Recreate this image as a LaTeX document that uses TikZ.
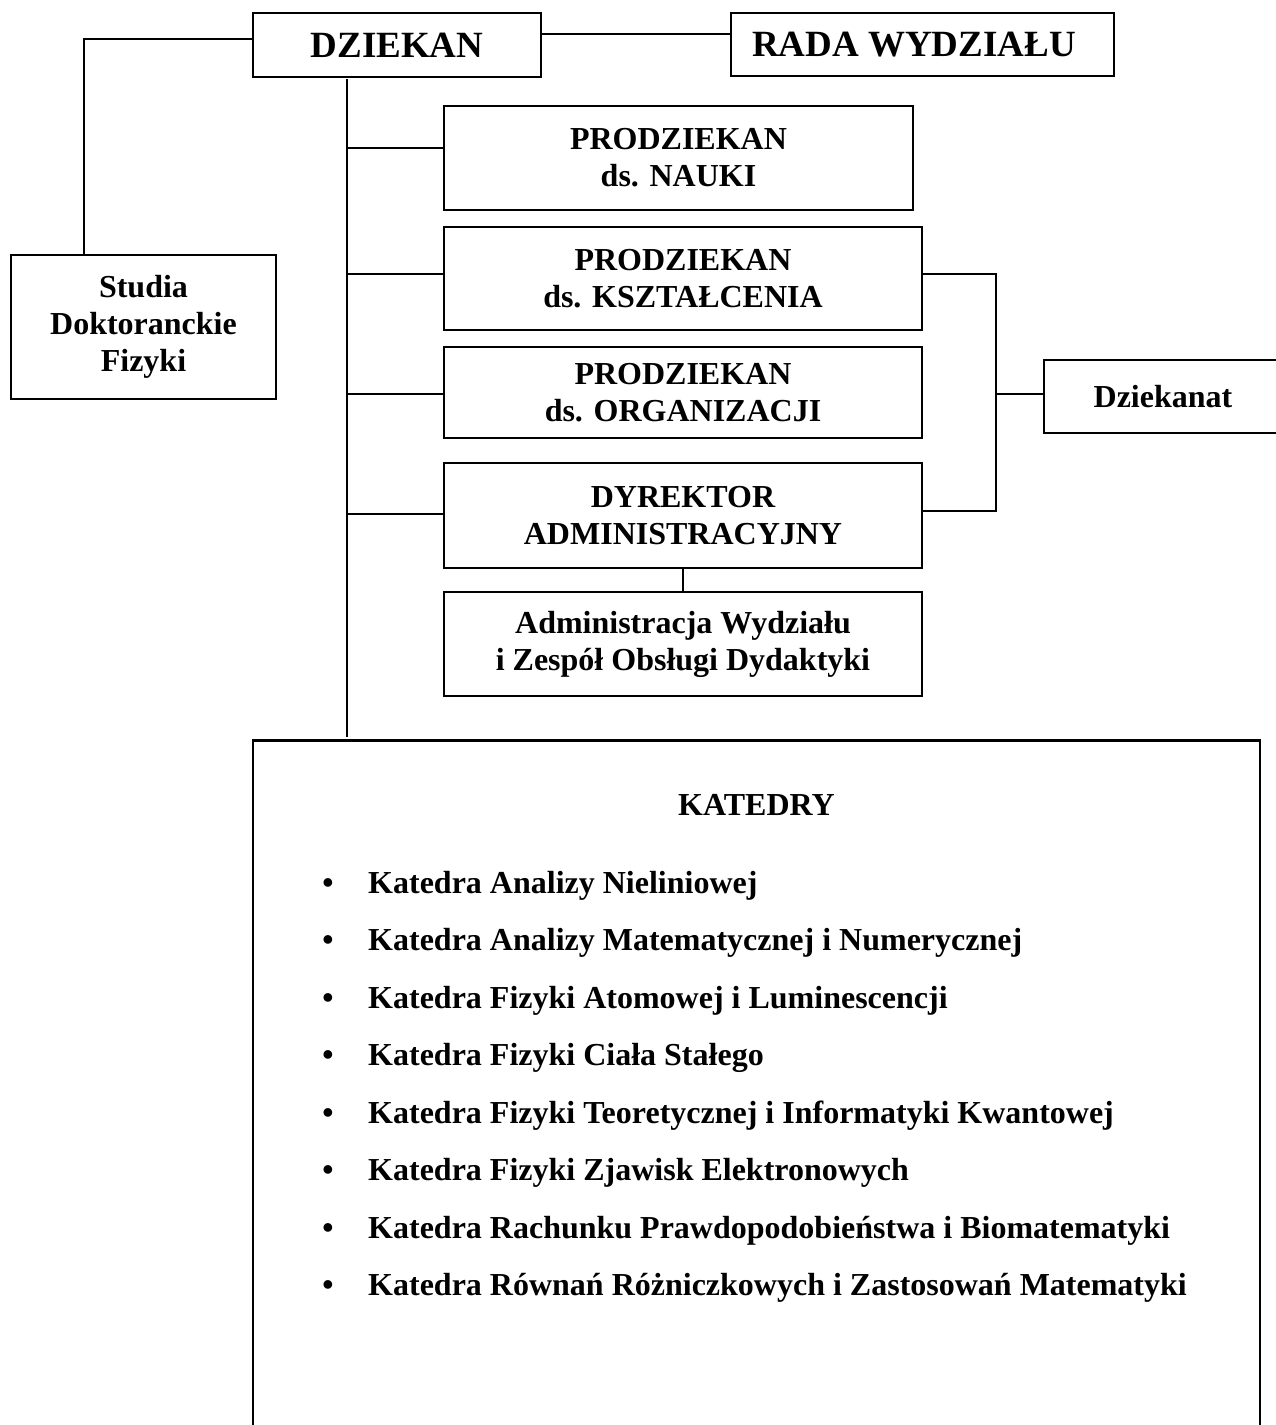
\documentclass[tikz,border=0pt]{standalone}
\usepackage{fontspec}
\setmainfont{Liberation Serif}
\begin{document}
\begin{tikzpicture}[x=1pt,y=-1pt,
  box/.style={draw,line width=2.5pt,rectangle,inner sep=0pt,align=center,
    font=\bfseries\fontsize{32}{37}\selectfont},
  bigbox/.style={box,font=\bfseries\fontsize{37}{42}\selectfont},
  conn/.style={line width=2pt},
  item/.style={anchor=base west,inner sep=0pt,font=\bfseries\fontsize{32}{37}\selectfont},
  bul/.style={anchor=base,inner sep=0pt,font=\bfseries\fontsize{32}{37}\selectfont}]
\useasboundingbox (0,0) rectangle (1276,1425);
\clip (0,0) rectangle (1276,1425);
\fill[white] (0,0) rectangle (1276,1425);

\node[bigbox, minimum width=288, minimum height=64] (dziekan) at (397,45) {DZIEKAN};
\node[bigbox, minimum width=383, minimum height=63] (rada) at (922.5,44.5) {RADA WYDZIAŁU\hspace*{17pt}};
\node[box, minimum width=265, minimum height=144] (studia) at (143.5,327) {Studia\\Doktoranckie\\Fizyki};
\node[box, minimum width=469, minimum height=104] (nauki) at (678.5,158) {PRODZIEKAN\\ds. NAUKI};
\node[box, minimum width=478, minimum height=103] (ksztal) at (683,278.5) {PRODZIEKAN\\ds. KSZTAŁCENIA};
\node[box, minimum width=478, minimum height=91] (org) at (683,392.5) {PRODZIEKAN\\ds. ORGANIZACJI};
\node[box, minimum width=478, minimum height=105] (dyr) at (683,515.5) {DYREKTOR\\ADMINISTRACYJNY};
\node[box, minimum width=478, minimum height=104] (admin) at (683,644) {Administracja Wydziału\\i Zespół Obsługi Dydaktyki};
\node[box, minimum width=260, minimum height=73] (dziekanat) at (1174,396.5) {Dziekanat\hspace*{22pt}};
\node[box, minimum width=1007, minimum height=760, anchor=north] (katedry) at (756.5,739) {};

\node[inner sep=0pt,font=\bfseries\fontsize{32}{37}\selectfont] (kt) at (756.5,805) {KATEDRY};
\foreach \t [count=\i from 0] in {
  Katedra Analizy Nieliniowej,
  Katedra Analizy Matematycznej i Numerycznej,
  Katedra Fizyki Atomowej i Luminescencji,
  Katedra Fizyki Ciała Stałego,
  Katedra Fizyki Teoretycznej i Informatyki Kwantowej,
  Katedra Fizyki Zjawisk Elektronowych,
  Katedra Rachunku Prawdopodobieństwa i Biomatematyki,
  Katedra Równań Różniczkowych i Zastosowań Matematyki}{
  \node[bul] (b\i) at (328,893+57.5*\i) {\textbullet};
  \node[item] (k\i) at (368,893+57.5*\i) {\t};
}

% connectors
\coordinate (t0) at (347,79);
\coordinate (t1) at (347,737);
\draw[conn] (t0) -- (t1);
\draw[conn] (t0 |- 0,148) -- (nauki.west |- 0,148);
\draw[conn] (t0 |- 0,274) -- (ksztal.west |- 0,274);
\draw[conn] (t0 |- 0,394) -- (org.west |- 0,394);
\draw[conn] (t0 |- 0,514) -- (dyr.west |- 0,514);
\draw[conn] (dziekan.west |- 0,39) -| (studia.north -| 84,0);
\draw[conn] (dziekan.east |- 0,34) -- (rada.west |- 0,34);
\coordinate (r0) at (996,274);
\coordinate (r1) at (996,511);
\draw[conn] (ksztal.east |- r0) -- (r0) -- (r1) -- (dyr.east |- r1);
\draw[conn] (r0 |- 0,394) -- (dziekanat.west |- 0,394);
\draw[conn] (dyr.south) -- (admin.north);
\end{tikzpicture}
\end{document}
